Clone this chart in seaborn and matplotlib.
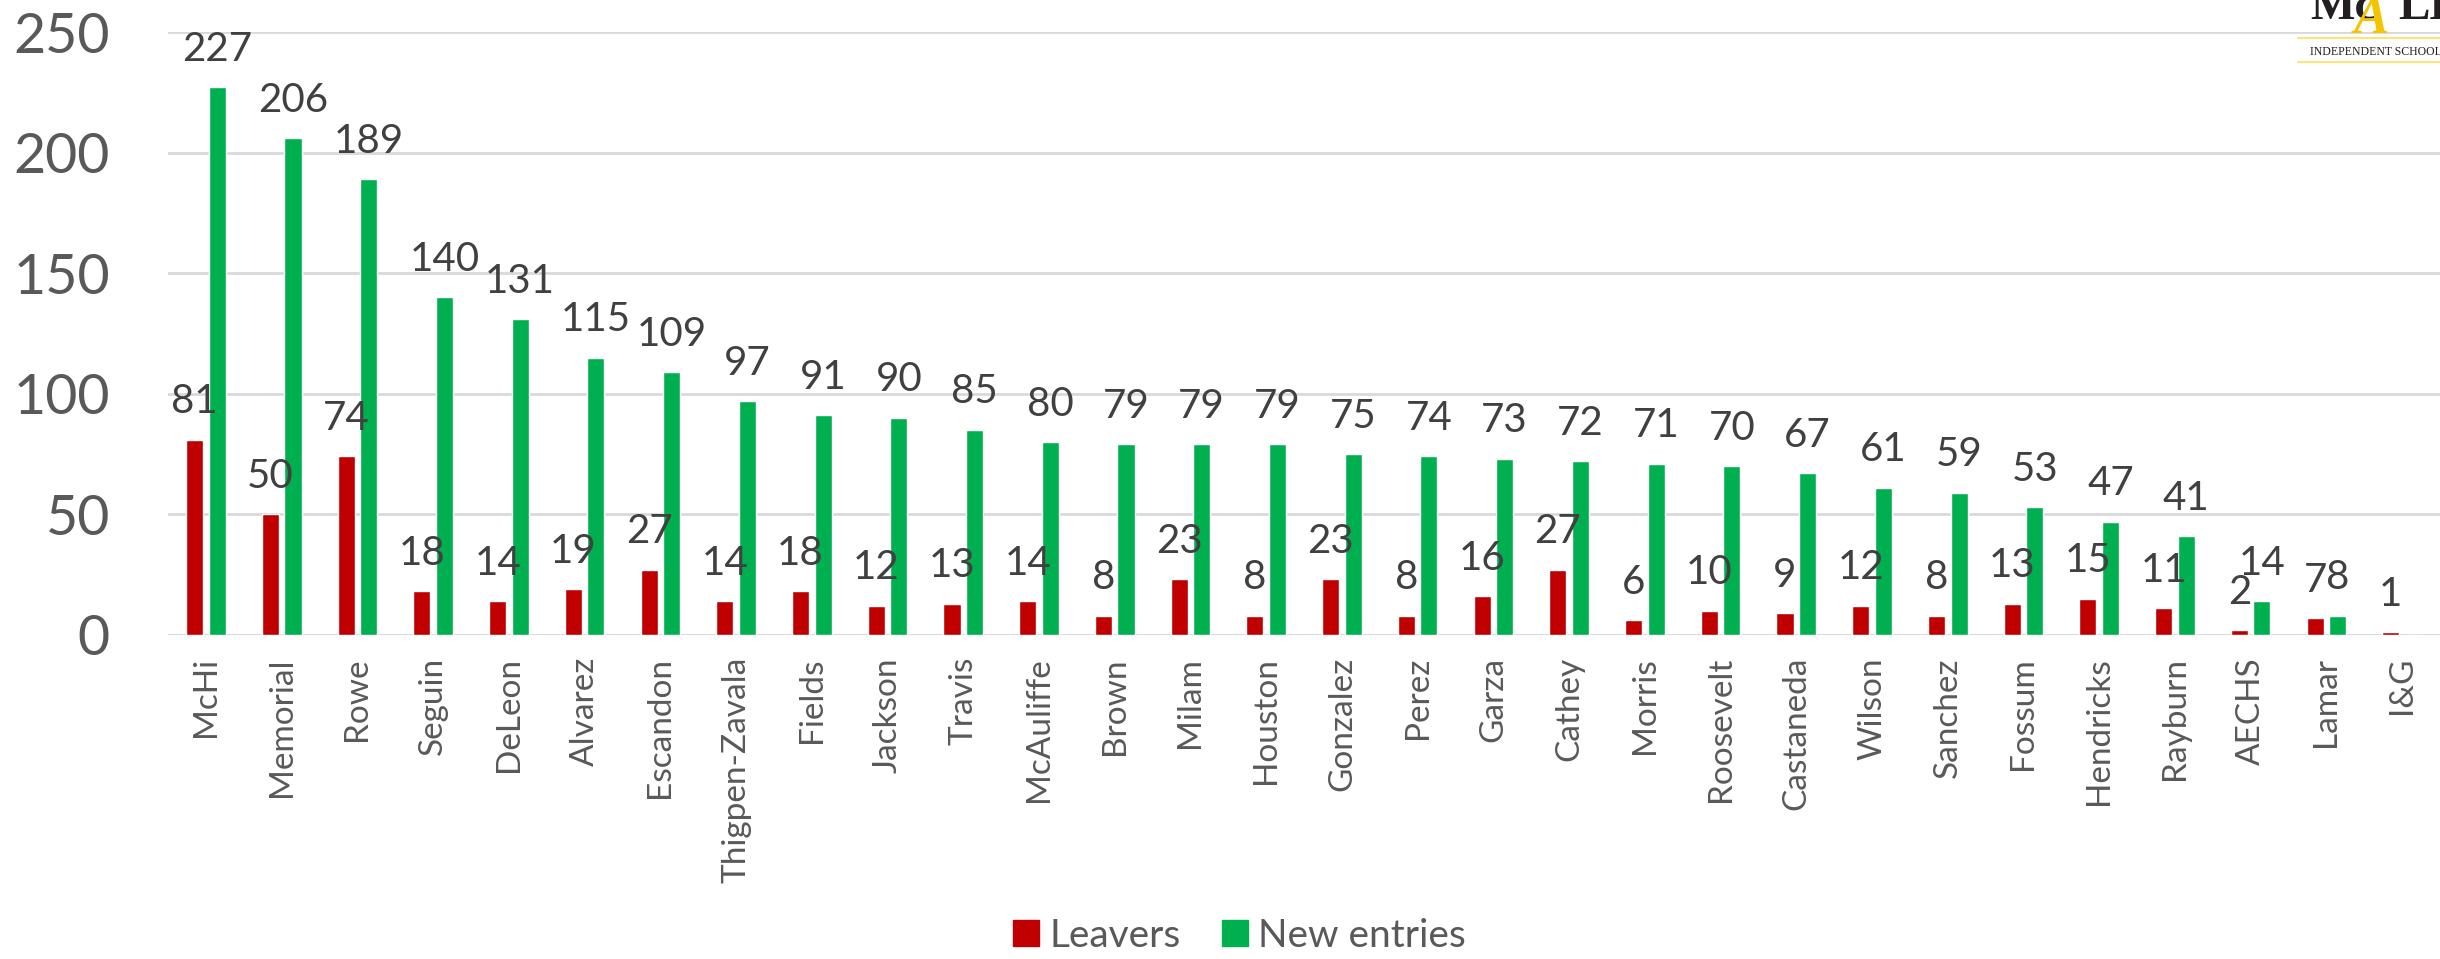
import pandas as pd
import matplotlib
matplotlib.use("Agg")
import matplotlib.pyplot as plt
import seaborn as sns
from matplotlib.lines import Line2D

# Data
schools = ["McHi", "Memorial", "Rowe", "Seguin", "DeLeon", "Alvarez", "Escandon",
           "Thigpen-Zavala", "Fields", "Jackson", "Travis", "McAuliffe", "Brown",
           "Milam", "Houston", "Gonzalez", "Perez", "Garza", "Cathey", "Morris",
           "Roosevelt", "Castaneda", "Wilson", "Sanchez", "Fossum", "Hendricks",
           "Rayburn", "AECHS", "Lamar", "I&G"]
leavers = [81, 50, 74, 18, 14, 19, 27, 14, 18, 12, 13, 14, 8, 23, 8, 23, 8, 16,
           27, 6, 10, 9, 12, 8, 13, 15, 11, 2, 7, 1]
new_entries = [227, 206, 189, 140, 131, 115, 109, 97, 91, 90, 85, 80, 79, 79, 79,
               75, 74, 73, 72, 71, 70, 67, 61, 59, 53, 47, 41, 14, 8, 0]

series_names = ["Leavers", "New entries"]
colors = ["#C00000", "#00B050"]

df = pd.DataFrame({
    "school": schools * 2,
    "count": leavers + new_entries,
    "series": [series_names[0]] * len(schools) + [series_names[1]] * len(schools),
})

sns.set_style("white")
plt.rcParams["font.family"] = ["Lato", "DejaVu Sans"]

fig = plt.figure(figsize=(24.4, 9.59), dpi=100)
ax = fig.add_axes([0.0689, 0.338, 0.9311, 0.6286])

sns.barplot(
    data=df, x="school", y="count", hue="series",
    palette=colors, width=0.596, gap=0.245,
    order=schools, hue_order=series_names,
    ax=ax, legend=False, saturation=1,
)

for cont in ax.containers:
    labels = [f"{int(v)}" if v > 0 else "" for v in cont.datavalues]
    ax.bar_label(cont, labels=labels, padding=14, fontsize=29, color="#404040")

ax.set_ylim(0, 250)
ax.set_xlim(-0.5, len(schools) - 0.5)
ax.set_yticks(range(0, 251, 50))
ax.yaxis.grid(True, color="#D9D9D9", linewidth=2)
ax.set_axisbelow(True)
for s in ax.spines.values():
    s.set_visible(False)
ax.axhline(0, color="#D9D9D9", linewidth=2, zorder=0)

ax.set_xlabel("")
ax.set_ylabel("")
ax.tick_params(axis="y", labelsize=40, labelcolor="#595959", length=0, pad=42)
ax.tick_params(axis="x", labelsize=24, labelcolor="#595959", length=0, pad=16)
plt.setp(ax.get_xticklabels(), rotation=90, ha="center", va="top")

handles = [Line2D([0], [0], marker="s", linestyle="", markersize=19,
                  markerfacecolor=c, markeredgecolor=c) for c in colors]
fig.legend(handles, series_names, loc="center", bbox_to_anchor=(1238 / 2440, 1 - 936 / 959),
           ncol=2, frameon=False, fontsize=28, labelcolor="#595959",
           handletextpad=0.2, columnspacing=1.0, handlelength=0.8)

# partial district logo in the top-right corner
logo_font = "Liberation Serif"
fig.text(2310 / 2440, 1 - 19 / 959, "Mc", fontsize=34, family=logo_font,
         weight="bold", color="#231F20", va="baseline", ha="left")
fig.text(2354 / 2440, 1 - 33 / 959, "A", fontsize=38, family=logo_font,
         style="italic", weight="bold", color="#F5C400", va="baseline", ha="left")
fig.text(2398 / 2440, 1 - 19 / 959, "LLEN", fontsize=34, family=logo_font,
         weight="bold", color="#231F20", va="baseline", ha="left")
fig.text(2310 / 2440, 1 - 55 / 959, "INDEPENDENT SCHOOL DISTRICT", fontsize=8.5,
         family=logo_font, color="#231F20", va="baseline", ha="left")
fig.add_artist(Line2D([2298 / 2440, 1], [1 - 38 / 959] * 2, color="#FFE27A", linewidth=1.5))
fig.add_artist(Line2D([2298 / 2440, 1], [1 - 62 / 959] * 2, color="#FFE27A", linewidth=1.5))

fig.savefig("out.png", dpi=100, facecolor="white")
